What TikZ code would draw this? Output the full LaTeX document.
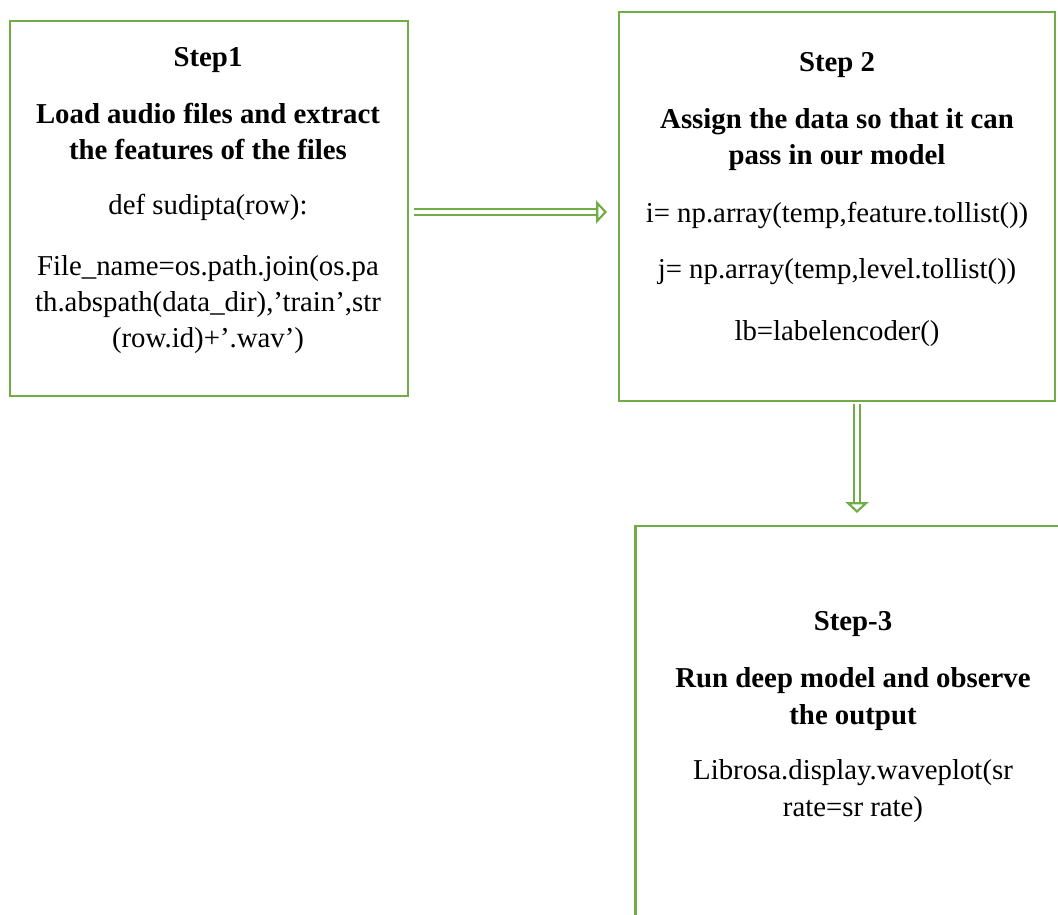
\documentclass[tikz,border=0pt]{standalone}
\usepackage{fontspec}
\setmainfont{Liberation Serif}
\usepackage{tikz}
\usetikzlibrary{arrows.meta,positioning}
\definecolor{stepgreen}{RGB}{112,173,71}

\begin{document}
\begin{tikzpicture}[x=0.4167pt, y=-0.4167pt,
    stepbox/.style={draw=stepgreen, line width=1.2pt, inner sep=0pt, outer sep=0pt},
    steptitle/.style={font=\fontsize{12}{15.2}\selectfont\bfseries, align=center, anchor=base, inner sep=0pt},
    steptext/.style={font=\fontsize{12}{15.2}\selectfont, align=center, anchor=base, inner sep=0pt},
    hollowarrow/.style={draw=stepgreen, line width=0.9pt, double=white, double distance=1.7pt,
        -{Triangle[open, fill=white, length=4.5pt, width=9.5pt, line width=0.9pt]}}]
    \useasboundingbox (0,0) rectangle (1058,914);
    \clip (0,0) rectangle (1058,914);

    % Boxes
    \node[stepbox, minimum width=165.8pt, minimum height=156.3pt] (step1box) at (209,208.5) {};
    \node[stepbox, minimum width=181.7pt, minimum height=162.1pt] (step2box) at (837,206.5) {};
    \node[stepbox, minimum width=183.3pt, minimum height=176.7pt] (step3box) at (855,738) {};

    % Step 1 text
    \node[steptitle] (step1title) at (208,67) {Step1};
    \node[steptitle] (step1head) at (208,160) {Load audio files and extract\\the features of the files};
    \node[steptext] (step1def) at (208,215) {def sudipta(row):};
    \node[steptext] (step1code) at (208,348)
        {File\_name=os.path.join(os.pa\\th.abspath(data\_dir),’train’,str\\(row.id)+’.wav’)};

    % Step 2 text
    \node[steptitle] (step2title) at (837,72) {Step 2};
    \node[steptitle] (step2head) at (837,165) {Assign the data so that it can\\pass in our model};
    \node[steptext] (step2i) at (837,223) {i= np.array(temp,feature.tollist())};
    \node[steptext] (step2j) at (837,279) {j= np.array(temp,level.tollist())};
    \node[steptext] (step2lb) at (837,341) {lb=labelencoder()};

    % Step 3 text
    \node[steptitle] (step3title) at (853,630) {Step-3};
    \node[steptitle] (step3head) at (853,724) {Run deep model and observe\\the output};
    \node[steptext] (step3code) at (853,816) {Librosa.display.waveplot(sr\\rate=sr rate)};

    % Arrows
    \draw[hollowarrow] ([shift={(6,3.5)}]step1box.east) -- ([shift={(-12,5.5)}]step2box.west);
    \draw[hollowarrow] ([shift={(20,3)}]step2box.south) -- ([shift={(2,-13)}]step3box.north);
\end{tikzpicture}
\end{document}
